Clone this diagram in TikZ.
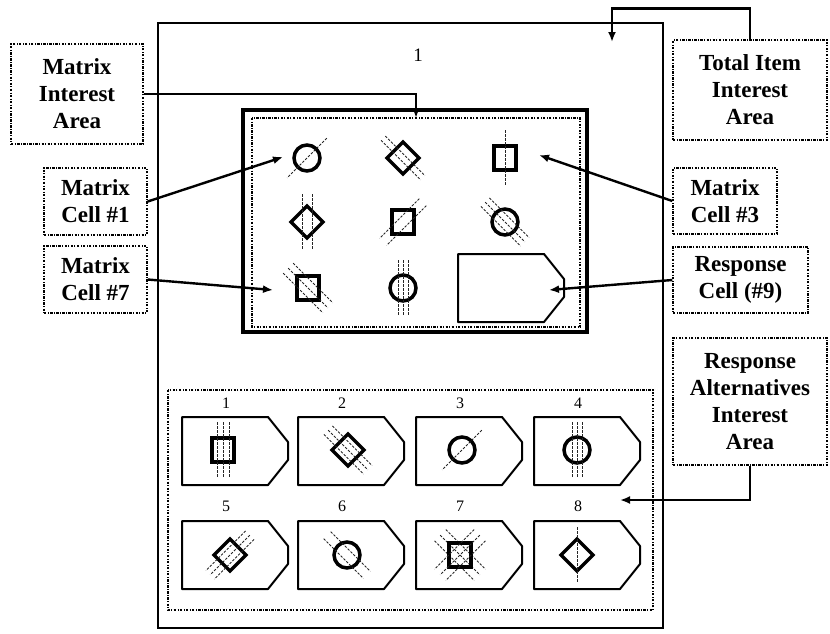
\documentclass[tikz,border=0pt]{standalone}
\usepackage{fontspec}
\setmainfont{Liberation Serif}
\usetikzlibrary{arrows.meta}

% pentagon-shaped answer cell, top left corner at (#1,#2)
\newcommand{\respcell}[2]{\draw [cellbox] (#1,#2) -- ++(86,0) -- ++(20,25) -- ++(0,18) -- ++(-20,25) -- ++(-86,0) -- cycle;}
% figure: x, y, shape, angle of the lines, offsets of the lines
\newcommand{\drawsym}[5]{\pic at (#1,#2) {#3};
  \begin{scope}[shift={(#1,#2)},rotate=#4]
    \foreach \hoff in {#5} \draw [hatchline] (\hoff,-28) -- (\hoff,28);
  \end{scope}}

\begin{document}
\begin{tikzpicture}[x=1pt,y=-1pt,
  lbl/.style={draw, line width=1.4pt, dash pattern=on 2.4pt off 1.4pt on 0.9pt off 1.4pt,
    inner sep=0pt, align=center, font=\fontsize{23}{27}\selectfont\bfseries},
  area/.style={line width=1.4pt, dash pattern=on 2.4pt off 1.4pt on 0.9pt off 1.4pt},
  arr/.style={line width=2.4pt, -{Latex[length=10pt,width=8pt]}},
  cellbox/.style={line width=2pt, line join=round},
  hatchline/.style={line width=0.9pt, black!85, dash pattern=on 2.5pt off 1.5pt},
  symedge/.style={line width=3.5pt},
  num/.style={font=\fontsize{16}{18}\selectfont},
  circsym/.pic={\draw [symedge] (0,0) circle (13pt);},
  diamsym/.pic={\draw [symedge] (0,-16) -- (16,0) -- (0,16) -- (-16,0) -- cycle;},
  sqsym/.pic={\draw [symedge] (-11,-12) rectangle (11,12);}]
\useasboundingbox (0,0) rectangle (830,633);

% item frame
\draw [line width=1.8pt] (158,23) rectangle (663,628);
\node [font=\fontsize{19}{22}\selectfont] (itemno) at (418,55) {1};

% matrix
\draw [line width=3.2pt] (243,110) rectangle (587,332);
\draw [area] (252,118) rectangle (580,327);
\drawsym{307}{158}{circsym}{-45}{0}
\drawsym{403}{158}{diamsym}{45}{-3,3}
\drawsym{505}{158}{sqsym}{0}{0}
\drawsym{307}{222}{diamsym}{0}{-5,5}
\drawsym{403}{222}{sqsym}{-45}{-5,5}
\drawsym{505}{222}{circsym}{45}{-6,0,6}
\drawsym{308}{288}{sqsym}{45}{-7,0,7}
\drawsym{403}{288}{circsym}{0}{-5,0,5}
\respcell{458}{254}

% response alternatives
\draw [area] (168,390) rectangle (653,610);
\foreach \xx/\na/\nb in {182/1/5, 298/2/6, 416/3/7, 534/4/8} {
  \respcell{\xx}{417}
  \respcell{\xx}{521}
  \node [num] (alt\na) at (\xx+44,403) {\na};
  \node [num] (alt\nb) at (\xx+44,506) {\nb};
}
\drawsym{223}{450}{sqsym}{0}{-6,0,6}
\drawsym{348}{450}{diamsym}{45}{-6,0,6}
\drawsym{462}{450}{circsym}{-45}{0}
\drawsym{577}{450}{circsym}{0}{-5,0,5}
\drawsym{230}{555}{diamsym}{-45}{-6,0,6}
\drawsym{347}{555}{circsym}{45}{-5,5}
\drawsym{460}{555}{sqsym}{45}{-8,0,8}
\drawsym{460}{555}{sqsym}{-45}{-8,0,8}
\drawsym{577}{555}{diamsym}{0}{0}

% labels
\node [lbl, minimum width=132pt, minimum height=100pt] (mia) at (77,94) {Matrix\\Interest\\Area};
\node [lbl, minimum width=154pt, minimum height=100pt] (tiia) at (750,90) {Total Item\\Interest\\Area};
\node [lbl, minimum width=103pt, minimum height=67pt] (mc1) at (95.5,201.5) {Matrix\\Cell \#1};
\node [lbl, minimum width=103pt, minimum height=67pt] (mc7) at (95.5,279.5) {Matrix\\Cell \#7};
\node [lbl, minimum width=104pt, minimum height=66pt] (mc3) at (725,201) {Matrix\\Cell \#3};
\node [lbl, minimum width=135pt, minimum height=66pt] (rc9) at (740.5,280) {Response\\Cell (\#9)};
\node [lbl, minimum width=154pt, minimum height=127pt] (raia) at (750,401.5) {Response\\Alternatives\\Interest\\Area};

% pointers
\coordinate (miatip) at (416,118);
\coordinate (tiiatip) at (612,42);
\coordinate (c1tip) at (283,157);
\coordinate (c7tip) at (273,290);
\coordinate (c3tip) at (539,155);
\coordinate (c9tip) at (549,290);
\coordinate (raiatip) at (620,500);
\draw [arr] (mia.east) -| (miatip);
\draw [arr] (tiia.north) -- ++(0,-31) -| (tiiatip);
\draw [arr] (mc1.east) -- (c1tip);
\draw [arr] (mc7.east) -- (c7tip);
\draw [arr] (mc3.west) -- (c3tip);
\draw [arr] (rc9.west) -- (c9tip);
\draw [arr] (raia.south) |- (raiatip);
\end{tikzpicture}
\end{document}
